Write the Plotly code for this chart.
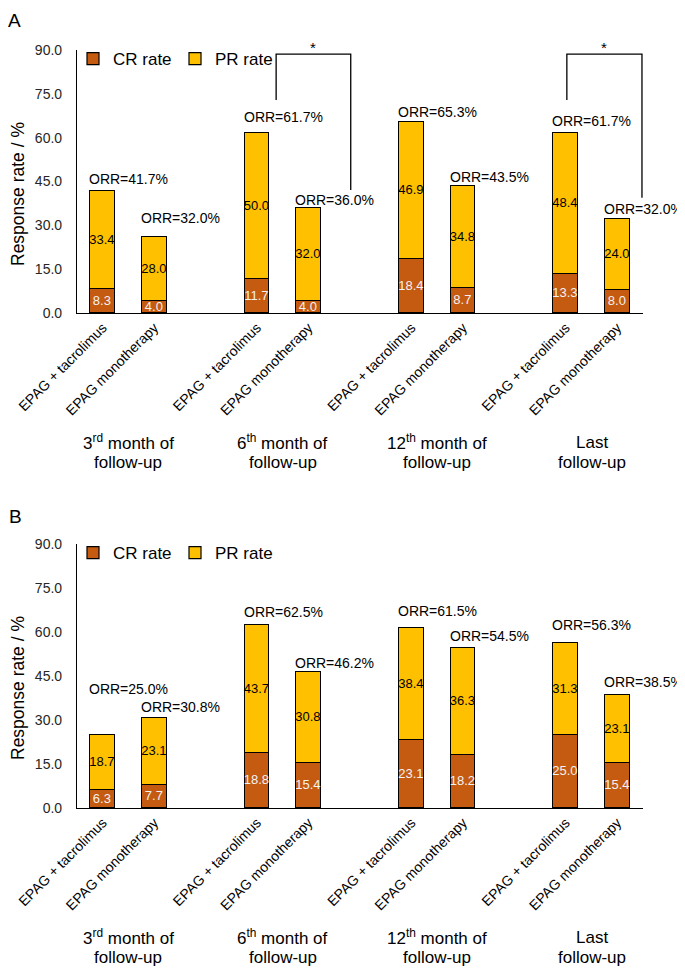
import plotly.graph_objects as go

# ---------------- data ----------------
groups = ["3<sup>rd</sup> month of", "6<sup>th</sup> month of", "12<sup>th</sup> month of", "Last"]
group_line2 = ["follow-up", "follow-up", "follow-up", "follow-up"]
arms = ["EPAG + tacrolimus", "EPAG monotherapy"]
bar_x = [0, 1, 3, 4, 6, 7, 9, 10]
tick_text = arms * 4

# Panel A (bar heights as drawn)
cr_a = [8.3, 4.0, 11.7, 4.0, 18.4, 8.7, 13.3, 8.0]
pr_a = [33.4, 22.0, 50.0, 32.0, 46.9, 34.8, 48.4, 24.0]
cr_a_lbl = ["8.3", "4.0", "11.7", "4.0", "18.4", "8.7", "13.3", "8.0"]
pr_a_lbl = ["33.4", "28.0", "50.0", "32.0", "46.9", "34.8", "48.4", "24.0"]
orr_a = ["ORR=41.7%", "ORR=32.0%", "ORR=61.7%", "ORR=36.0%",
         "ORR=65.3%", "ORR=43.5%", "ORR=61.7%", "ORR=32.0%"]

# Panel B
cr_b = [6.3, 7.7, 18.8, 15.4, 23.1, 18.2, 25.0, 15.4]
pr_b = [18.7, 23.1, 43.7, 30.8, 38.4, 36.3, 31.3, 23.1]
cr_b_lbl = ["6.3", "7.7", "18.8", "15.4", "23.1", "18.2", "25.0", "15.4"]
pr_b_lbl = ["18.7", "23.1", "43.7", "30.8", "38.4", "36.3", "31.3", "23.1"]
orr_b = ["ORR=25.0%", "ORR=30.8%", "ORR=62.5%", "ORR=46.2%",
         "ORR=61.5%", "ORR=54.5%", "ORR=56.3%", "ORR=38.5%"]

y_ticks = [0, 15, 30, 45, 60, 75, 90]

# ---------------- style ----------------
FONT = "Liberation Sans"
CR_COL = "#C55A11"
PR_COL = "#FFC000"
OFF = 8                      # page body margin
W, H = 685 - OFF, 969 - OFF  # figure size
BAR_W = 0.48

# label offsets (px above bar top) - styling
orr_off_a = [12, 19, 16, 8, 10, 9, 12, 10]
orr_off_b = [46, 11, 13, 9, 17, 12, 18, 13]


def px_(x):
    return (x - OFF) / W


def py(y):
    return 1 - (y - OFF) / H


fig = go.Figure()


def add_panel(cr, pr, cr_lbl, pr_lbl, xa, ya, leg):
    fig.add_trace(go.Bar(
        x=bar_x, y=cr, name="CR rate", marker=dict(color=CR_COL, line=dict(color="black", width=1.2)),
        width=BAR_W, text=cr_lbl, textposition="inside", insidetextanchor="middle",
        textangle=0, constraintext="none", cliponaxis=False,
        insidetextfont=dict(family=FONT, size=13, color="#F2F2F2"),
        xaxis=xa, yaxis=ya, legend=leg, showlegend=True, hoverinfo="skip"))
    fig.add_trace(go.Bar(
        x=bar_x, y=pr, name="PR rate", marker=dict(color=PR_COL, line=dict(color="black", width=1.2)),
        width=BAR_W, text=pr_lbl, textposition="inside", insidetextanchor="middle",
        textangle=0, constraintext="none", cliponaxis=False,
        insidetextfont=dict(family=FONT, size=13, color="black"),
        xaxis=xa, yaxis=ya, legend=leg, showlegend=True, hoverinfo="skip"))


add_panel(cr_a, pr_a, cr_a_lbl, pr_a_lbl, "x", "y", "legend")
add_panel(cr_b, pr_b, cr_b_lbl, pr_b_lbl, "x2", "y2", "legend2")

xdom = [px_(77), px_(643)]
xcommon = dict(range=[-0.5, 10.5], tickvals=bar_x, ticktext=tick_text, tickangle=-45,
               showline=True, linecolor="#000000", linewidth=1.2, ticks="",
               showgrid=False, zeroline=False, domain=xdom, automargin=False,
               tickfont=dict(family=FONT, size=14, color="black"))
ycommon = dict(range=[0, 90], tickvals=y_ticks, tickformat=".1f", showline=True,
               linecolor="#000000", linewidth=1.2, ticks="", showgrid=False, zeroline=False,
               automargin=False,
               tickfont=dict(family=FONT, size=14, color="#262626"), ticklabelstandoff=11)

legcommon = dict(orientation="h", xanchor="left", yanchor="middle",
                 font=dict(family=FONT, size=17, color="black"), bgcolor="rgba(0,0,0,0)",
                 itemwidth=30, traceorder="normal", tracegroupgap=0,
                 entrywidth=57, entrywidthmode="pixels")

fig.update_layout(
    width=W, height=H, margin=dict(l=0, r=0, t=0, b=0, autoexpand=False),
    paper_bgcolor="white", plot_bgcolor="white", barmode="stack", bargap=0,
    font=dict(family=FONT, color="black"),
    xaxis=dict(**xcommon, anchor="y"),
    yaxis=dict(**ycommon, domain=[py(313), py(50)], anchor="x"),
    xaxis2=dict(**xcommon, anchor="y2"),
    yaxis2=dict(**ycommon, domain=[py(808), py(544)], anchor="x2"),
    legend=dict(**legcommon, x=px_(73), y=py(59)),
    legend2=dict(**legcommon, x=px_(73), y=py(553)),
)

ann = []
# ORR labels
for xa, ya, cr, pr, orr, offs in [("x", "y", cr_a, pr_a, orr_a, orr_off_a),
                                  ("x2", "y2", cr_b, pr_b, orr_b, orr_off_b)]:
    for i, xv in enumerate(bar_x):
        ann.append(dict(x=xv - BAR_W / 2, y=cr[i] + pr[i], xref=xa, yref=ya, text=orr[i],
                        showarrow=False, xanchor="left", yanchor="middle", xshift=-3,
                        yshift=offs[i], font=dict(family=FONT, size=14, color="black")))

# group labels
for xa, y1, y2 in [("x", 442, 462), ("x2", 937, 957)]:
    for g in range(4):
        cx = (bar_x[2 * g] + bar_x[2 * g + 1]) / 2
        ann.append(dict(x=cx, y=py(y1), xref=xa, yref="paper", text=groups[g], showarrow=False,
                        xanchor="center", yanchor="middle",
                        font=dict(family=FONT, size=17, color="black")))
        ann.append(dict(x=cx, y=py(y2), xref=xa, yref="paper", text=group_line2[g], showarrow=False,
                        xanchor="center", yanchor="middle",
                        font=dict(family=FONT, size=17, color="black")))

# y titles and panel letters
for yc in [194, 688]:
    ann.append(dict(x=px_(18), y=py(yc), xref="paper", yref="paper", text="Response rate / %",
                    textangle=-90, showarrow=False, xanchor="center", yanchor="middle",
                    font=dict(family=FONT, size=17.5, color="black")))
ann.append(dict(x=px_(14), y=1, xref="paper", yref="paper", text="A",
                showarrow=False, xanchor="center", yanchor="top",
                font=dict(family=FONT, size=19, color="black")))
ann.append(dict(x=px_(15), y=py(516), xref="paper", yref="paper", text="B",
                showarrow=False, xanchor="center", yanchor="middle",
                font=dict(family=FONT, size=19, color="black")))

# significance brackets (panel A)
brackets = [(3.37, 4.82, 72.9, 42.1), (9.02, 10.48, 72.9, 39.4)]
top_y = 88.6
shapes = []
for xl, xr, yl, yr in brackets:
    shapes.append(dict(type="path", xref="x", yref="y",
                       path=f"M {xl},{yl} L {xl},{top_y} L {xr},{top_y} L {xr},{yr}",
                       line=dict(color="black", width=1.3)))
    ann.append(dict(x=(xl + xr) / 2, y=top_y, xref="x", yref="y", text="*", showarrow=False,
                    xanchor="center", yanchor="bottom", yshift=-4,
                    font=dict(family=FONT, size=15, color="black")))

fig.update_layout(annotations=ann, shapes=shapes)
fig.write_html("out.html")
